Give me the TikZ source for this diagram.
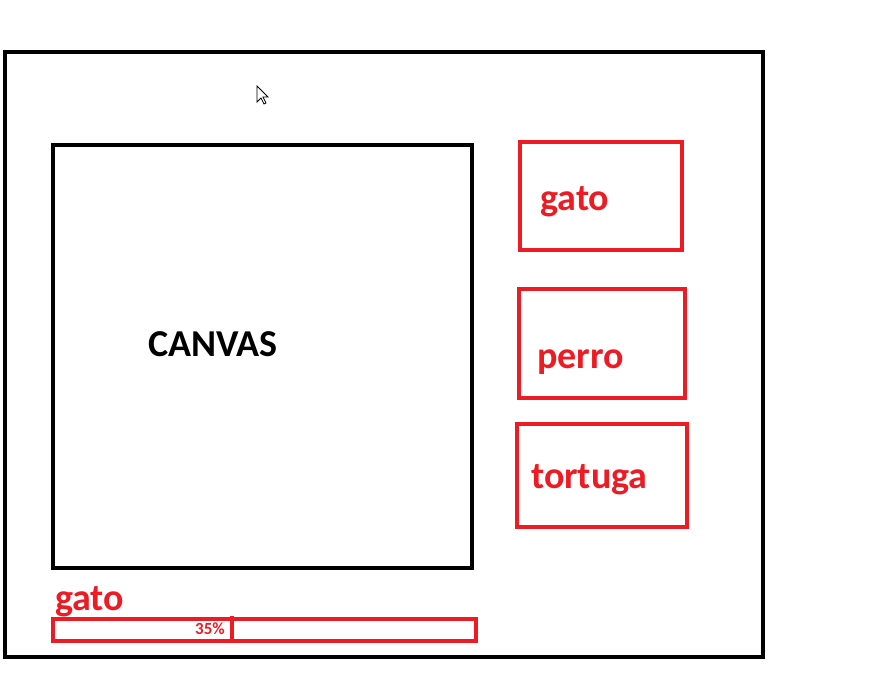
\documentclass[tikz,border=0pt]{standalone}
\usepackage{fontspec}
\setmainfont{Carlito}
\usepackage{tikz}
\definecolor{paintred}{HTML}{ED1C24}

\begin{document}
\begin{tikzpicture}[x=1pt,y=-1pt,
    every node/.style={font=\bfseries\fontsize{38}{44}\selectfont},
    frame/.style={draw=black,line width=4pt,inner sep=0pt,outer sep=0pt,anchor=north west},
    option/.style={draw=paintred,line width=3.5pt,inner sep=0pt,outer sep=0pt,anchor=north west},
    label/.style={text=paintred,inner sep=0pt,anchor=base west}]
  \useasboundingbox (0,0) rectangle (886,694);
  \node[frame,minimum width=758pt,minimum height=605pt] (window) at (5,52) {};
  \node[frame,minimum width=419pt,minimum height=423pt] (canvas) at (53,145) {};
  \node[inner sep=0pt,anchor=base west] at (148,356) (canvastxt) {CANVAS};
  % option boxes
  \node[option,minimum width=162pt,minimum height=108pt] (optgato) at (520,142) {};
  \node[label] at (540,210) (gatotxt) {gato};
  \node[option,minimum width=166pt,minimum height=109pt] (optperro) at (519,289) {};
  \node[label] at (537,368) (perrotxt) {perro};
  \node[option,minimum width=170pt,minimum height=103pt] (opttortuga) at (517,424) {};
  \node[label] at (531,488) (tortugatxt) {tortuga};
  % progress bar
  \node[label] at (55,610) (progtxt) {gato};
  \node[option,minimum width=423pt,minimum height=22pt] (bar) at (53,619) {};
  \draw[paintred,line width=3.5pt] (232,616) -- (232,641);
  \node[label,anchor=base east,font=\bfseries\fontsize{17}{19}\selectfont] at (225,634) (pct) {35\%};
  % cursor
  \draw[black,fill=white,line width=0.8pt,line join=miter]
    (257,86) -- (257,102) -- (261,98) -- (264,104) -- (266,103)
    -- (263,97) -- (268,97) -- cycle;
\end{tikzpicture}
\end{document}
